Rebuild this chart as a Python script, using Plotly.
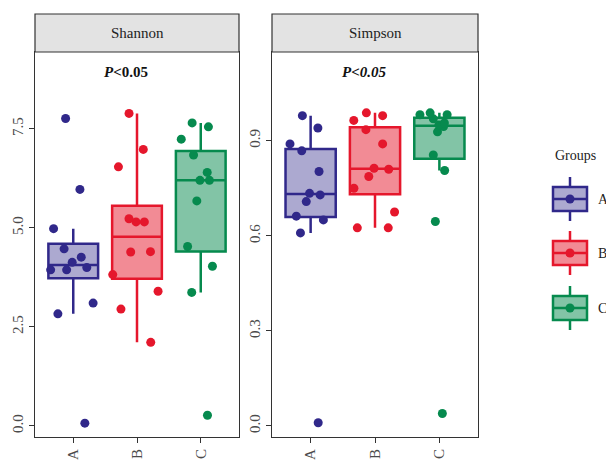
import numpy as np
import plotly.graph_objects as go

W, H = 606, 461
groups = ["A", "B", "C"]
colors = {"A": "#30288A", "B": "#E5172C", "C": "#068A4E"}
fills = {"A": "rgba(48,40,138,0.40)", "B": "rgba(229,23,44,0.50)", "C": "rgba(6,138,78,0.50)"}

shannon_A = [7.76, 5.97, 4.98, 4.47, 4.26, 4.13, 4.00, 3.94, 3.94, 2.83, 3.10, 0.07]
shannon_B = [7.89, 6.98, 6.54, 5.15, 5.23, 5.15, 4.39, 4.40, 3.82, 3.40, 2.95, 2.11]
shannon_C = [7.65, 7.55, 7.24, 6.84, 6.20, 6.20, 6.40, 5.68, 4.53, 4.03, 3.37, 0.27]

simpson_A = [0.979, 0.940, 0.890, 0.868, 0.803, 0.734, 0.729, 0.708, 0.662, 0.650, 0.609, 0.010]
simpson_B = [0.988, 0.979, 0.964, 0.935, 0.890, 0.813, 0.810, 0.787, 0.750, 0.675, 0.625, 0.625]
simpson_C = [0.988, 0.982, 0.982, 0.969, 0.956, 0.950, 0.945, 0.928, 0.855, 0.806, 0.645, 0.039]

panels = [
    ("Shannon", {"A": shannon_A, "B": shannon_B, "C": shannon_C}, "x", "y"),
    ("Simpson", {"A": simpson_A, "B": simpson_B, "C": simpson_C}, "x2", "y2"),
]

shannon_ticks = [0, 2.5, 5.0, 7.5]
simpson_ticks = [0, 0.3, 0.6, 0.9]

SERIF = "Liberation Serif"


def box_stats(vals):
    v = np.asarray(vals, dtype=float)
    q1, med, q3 = np.percentile(v, [25, 50, 75])  # same as R quantile type 7
    iqr = q3 - q1
    lo = v[v >= q1 - 1.5 * iqr].min()
    hi = v[v <= q3 + 1.5 * iqr].max()
    return q1, med, q3, lo, hi


fig = go.Figure()
for name, data, xa, ya in panels:
    for g in groups:
        vals = data[g]
        q1, med, q3, lo, hi = box_stats(vals)
        fig.add_trace(go.Box(
            x=[g], q1=[q1], median=[med], q3=[q3], lowerfence=[lo], upperfence=[hi],
            name=g, xaxis=xa, yaxis=ya, boxpoints=False,
            line=dict(color=colors[g], width=2.5),
            fillcolor=fills[g], width=0.78, whiskerwidth=0,
            showlegend=False, hoverinfo="skip",
        ))
    for g in groups:
        vals = data[g]
        fig.add_trace(go.Box(
            x=[g] * len(vals), y=vals, name=g, xaxis=xa, yaxis=ya,
            boxpoints="all", jitter=1.0, pointpos=0,
            marker=dict(color=colors[g], size=9, opacity=1),
            line=dict(color="rgba(0,0,0,0)", width=0),
            fillcolor="rgba(0,0,0,0)", width=0.9, whiskerwidth=0,
            showlegend=False, hoverinfo="y",
        ))


def px(x):
    return x / W


def py(y):
    return 1 - y / H


dom1 = [px(35), px(239)]
dom2 = [px(272), px(478)]
ydom = [py(437), py(52)]

tickfont = dict(family=SERIF, size=15, color="#4a4a4a")
common_x = dict(type="category", categoryorder="array", categoryarray=groups,
                range=[-0.6, 2.6], showline=True, linecolor="#333", linewidth=1.2,
                mirror=True, ticks="outside", ticklen=5, tickcolor="#333",
                tickangle=-90, tickfont=tickfont, showgrid=False, zeroline=False)
common_y = dict(showline=True, linecolor="#333", linewidth=1.2, mirror=True,
                ticks="outside", ticklen=5, tickcolor="#333", tickangle=-90,
                tickfont=tickfont, showgrid=False, zeroline=False)

fig.update_layout(
    width=W, height=H, margin=dict(l=0, r=0, t=0, b=0),
    plot_bgcolor="white", paper_bgcolor="white",
    boxmode="overlay",
    xaxis=dict(domain=dom1, anchor="y", **common_x),
    xaxis2=dict(domain=dom2, anchor="y2", **common_x),
    yaxis=dict(domain=ydom, anchor="x", range=[-0.28, 9.44], tickvals=shannon_ticks,
               ticktext=["%.1f" % v for v in shannon_ticks], **common_y),
    yaxis2=dict(domain=ydom, anchor="x2", range=[-0.035, 1.18], tickvals=simpson_ticks,
                ticktext=["%.1f" % v for v in simpson_ticks], **common_y),
    showlegend=False,
)

shapes = []
annots = []


def note(text, x, y, size=14, xanchor="center", color="#222"):
    annots.append(dict(text=text, x=x, y=y, xref="paper", yref="paper",
                       xanchor=xanchor, yanchor="middle", showarrow=False,
                       font=dict(family=SERIF, size=size, color=color)))


for (name, _, _, _), dom in zip(panels, [dom1, dom2]):
    shapes.append(dict(type="rect", xref="paper", yref="paper", x0=dom[0], x1=dom[1],
                       y0=py(52), y1=py(14), fillcolor="#E3E3E3",
                       line=dict(color="#333", width=1.2), layer="above"))
    note(name, (dom[0] + dom[1]) / 2, py(33), size=15)

note("<b><i>P</i>&lt;0.05</b>", px(126), py(72), size=15, color="#111")
note("<b><i>P&lt;0.05</i></b>", px(364), py(72), size=15, color="#111")

# custom legend (ggplot-like keys)
note("Groups", px(553), py(155), xanchor="left")
centers = {"A": 199, "B": 253, "C": 308}
for g in groups:
    cy = centers[g]
    cx = 570
    shapes.append(dict(type="line", xref="paper", yref="paper", x0=px(cx), x1=px(cx),
                       y0=py(cy - 22), y1=py(cy + 22), line=dict(color=colors[g], width=2.5)))
    shapes.append(dict(type="rect", xref="paper", yref="paper", x0=px(553), x1=px(587),
                       y0=py(cy + 12), y1=py(cy - 12), fillcolor="white",
                       line=dict(color=colors[g], width=0)))
    shapes.append(dict(type="rect", xref="paper", yref="paper", x0=px(553), x1=px(587),
                       y0=py(cy + 12), y1=py(cy - 12), fillcolor=fills[g],
                       line=dict(color=colors[g], width=2.5)))
    shapes.append(dict(type="line", xref="paper", yref="paper", x0=px(553), x1=px(587),
                       y0=py(cy), y1=py(cy), line=dict(color=colors[g], width=2.5)))
    shapes.append(dict(type="circle", xref="paper", yref="paper", x0=px(cx - 4.5), x1=px(cx + 4.5),
                       y0=py(cy + 4.5), y1=py(cy - 4.5), fillcolor=colors[g],
                       line=dict(color=colors[g], width=0)))
    note(g, px(596), py(cy), xanchor="left")

fig.update_layout(shapes=shapes, annotations=annots)
fig.write_html("out.html")
